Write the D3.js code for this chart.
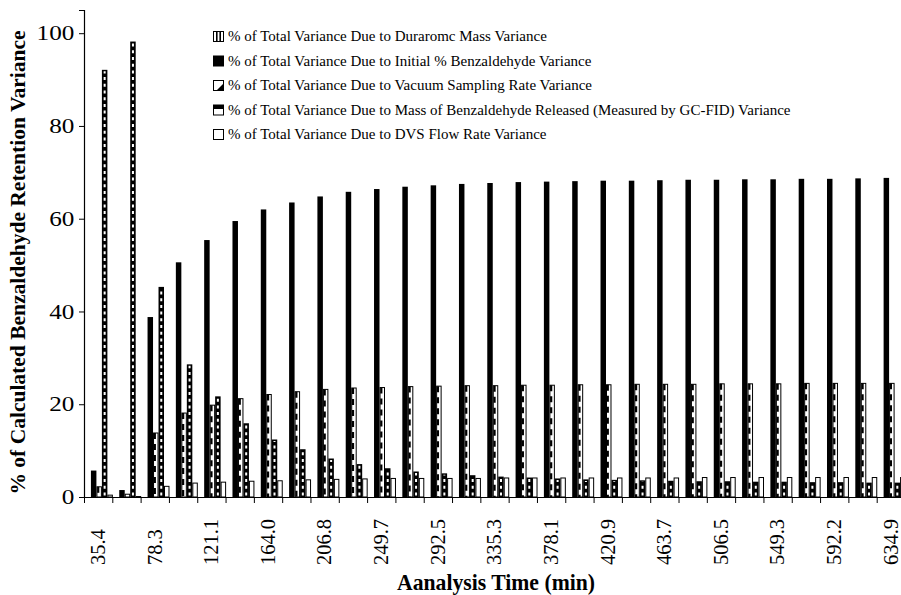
<!DOCTYPE html>
<html>
<head>
<meta charset="utf-8">
<script src="https://cdn.jsdelivr.net/npm/d3@7/dist/d3.min.js"></script>
<style>
  body { margin: 0; background: #fff; }
  svg text { font-family: 'Liberation Serif', 'DejaVu Serif', serif !important; fill: #000; }
</style>
</head>
<body>
<svg id="chart" width="901" height="595"></svg>
<script>
// Analysis times (min), one per group; only every other one is labelled
var times = [35.4, 56.9, 78.3, 99.7, 121.1, 142.6, 164.0, 185.4, 206.8, 228.3,
             249.7, 271.1, 292.5, 313.9, 335.3, 356.7, 378.1, 399.5, 420.9, 442.3,
             463.7, 485.1, 506.5, 527.9, 549.3, 570.8, 592.2, 613.6, 634.9];

var seriesNames = [
  '% of Total Variance Due to Duraromc Mass Variance',
  '% of Total Variance Due to Initial % Benzaldehyde Variance',
  '% of Total Variance Due to Vacuum Sampling Rate Variance',
  '% of Total Variance Due to Mass of Benzaldehyde Released (Measured by GC-FID) Variance',
  '% of Total Variance Due to DVS Flow Rate Variance'
];

var duraromc = [0, 0, 0, 0, 0, 0, 0, 0, 0, 0, 0, 0, 0, 0, 0,
                0, 0, 0, 0, 0, 0, 0, 0, 0, 0, 0, 0, 0, 0];
var initialBenz = [5.7, 1.5, 38.8, 50.6, 55.4, 59.5, 62.0, 63.5, 64.8, 65.8,
                   66.4, 66.9, 67.2, 67.5, 67.7, 67.9, 68.0, 68.1, 68.2, 68.2,
                   68.3, 68.4, 68.4, 68.5, 68.5, 68.6, 68.6, 68.7, 68.8];
var vacuumRate = [2.2, 0.6, 13.8, 18.1, 19.8, 21.2, 22.1, 22.7, 23.2, 23.5,
                  23.6, 23.8, 23.9, 24.0, 24.0, 24.1, 24.1, 24.2, 24.2, 24.3,
                  24.3, 24.3, 24.4, 24.4, 24.4, 24.5, 24.5, 24.5, 24.5];
var massReleased = [92.1, 98.2, 45.3, 28.6, 21.7, 15.9, 12.4, 10.3, 8.3, 7.1,
                    6.2, 5.5, 5.1, 4.7, 4.4, 4.2, 4.0, 3.8, 3.7, 3.6,
                    3.5, 3.4, 3.4, 3.3, 3.3, 3.2, 3.2, 3.1, 3.1];
var dvsFlow = [0.4, 0.1, 2.3, 3.0, 3.2, 3.4, 3.5, 3.7, 3.8, 3.9,
               4.0, 4.0, 4.0, 4.0, 4.1, 4.1, 4.1, 4.1, 4.1, 4.1,
               4.1, 4.2, 4.2, 4.2, 4.2, 4.2, 4.2, 4.2, 4.2];

var yTicks = [0, 20, 40, 60, 80, 100];

var series = [duraromc, initialBenz, vacuumRate, massReleased, dvsFlow];
var styles = ['stripe', 'solid', 'vacuum', 'dotted', 'open'];

var serif = "'Liberation Serif', 'DejaVu Serif', serif";

var svg = d3.select('#chart');
var margin = {left: 84, top: 10, bottom: 98},
    plotRight = 905,
    y0 = 595 - margin.bottom;

var x = d3.scaleBand()
  .domain(d3.range(times.length))
  .range([margin.left, plotRight]);

var x1 = d3.scaleBand()
  .domain(d3.range(series.length))
  .range([0, x.bandwidth()])
  .paddingOuter(0.08);

var y = d3.scaleLinear().domain([0, 105]).range([y0, margin.top]);

// bars
var groups = svg.append('g').selectAll('g')
  .data(times)
  .enter().append('g')
  .attr('transform', function(d, i) { return 'translate(' + (x(i) + 1) + ',0)'; });

groups.each(function(t, gi) {
  var g = d3.select(this);
  series.forEach(function(s, si) {
    var v = s[gi];
    if (v <= 0) return;
    var bx = x1(si) + 0.5, bw = x1.bandwidth() - 1, top = y(v), h = y0 - top;
    var st = styles[si];
    if (st === 'solid') {
      g.append('rect').attr('x', bx - 0.5).attr('y', top).attr('width', bw + 1).attr('height', h)
        .attr('fill', '#000');
    } else if (st === 'dotted') {
      g.append('rect').attr('x', bx - 0.5).attr('y', top).attr('width', bw + 1).attr('height', h)
        .attr('fill', '#000');
      g.append('line').attr('x1', bx + bw / 2).attr('x2', bx + bw / 2)
        .attr('y1', y0 - 1.5).attr('y2', top + 1.5)
        .attr('stroke', '#fff').attr('stroke-width', 2)
        .attr('stroke-dasharray', '3 3.7');
    } else if (st === 'vacuum') {
      g.append('rect').attr('x', bx).attr('y', top).attr('width', bw).attr('height', h)
        .attr('fill', '#fff').attr('stroke', '#000').attr('stroke-width', 1);
      if (h > 4) {
        g.append('line').attr('x1', bx + 1.3).attr('x2', bx + 1.3)
          .attr('y1', top).attr('y2', y0)
          .attr('stroke', '#000').attr('stroke-width', 2.2)
          .attr('stroke-dasharray', '6 5');
      }
    } else {
      g.append('rect').attr('x', bx).attr('y', top).attr('width', bw).attr('height', h)
        .attr('fill', '#fff').attr('stroke', '#000').attr('stroke-width', 1);
    }
  });
});

// y axis
var yAxis = svg.append('g')
  .attr('transform', 'translate(' + margin.left + ',0)')
  .call(d3.axisLeft(y).tickValues(yTicks).tickSizeOuter(0).tickSize(5).tickPadding(3));
yAxis.attr('font-family', serif);
yAxis.select('.domain').attr('stroke', '#000').attr('stroke-width', 1.2);
yAxis.selectAll('text')
  .style('font-size', '21px')
  .style('font-family', serif)
  .attr('transform', 'scale(1.2,1)');

// x axis: ticks on group boundaries
var xb = d3.scaleLinear().domain([0, times.length]).range([margin.left, plotRight]);
var xAxis = svg.append('g')
  .attr('transform', 'translate(0,' + y0 + ')')
  .call(d3.axisBottom(xb).tickValues(d3.range(times.length + 1)).tickFormat('').tickSize(6).tickSizeOuter(0));
xAxis.select('.domain').attr('stroke', '#000').attr('stroke-width', 1.2);

// x tick labels, every other group
var xLab = svg.append('g')
  .attr('transform', 'translate(0,' + y0 + ')')
  .call(d3.axisBottom(x)
    .tickValues(d3.range(0, times.length, 2))
    .tickFormat(function(i) { return times[i].toFixed(1); })
    .tickSize(0));
xLab.attr('font-family', serif);
xLab.select('.domain').remove();
xLab.selectAll('text')
  .style('font-size', '20.5px')
  .style('font-family', serif)
  .attr('text-anchor', 'start')
  .attr('transform', 'translate(0,68) rotate(-90)')
  .attr('x', 0).attr('y', 0).attr('dy', '0.33em');

// axis titles
svg.append('text')
  .attr('transform', 'translate(25,' + ((margin.top + y0) / 2 + 9) + ') rotate(-90)')
  .attr('text-anchor', 'middle')
  .style('font-family', serif)
  .style('font-size', '21.5px').style('font-weight', 'bold')
  .text('% of Calculated Benzaldehyde Retention Variance');

svg.append('text')
  .attr('x', 496).attr('y', 590)
  .attr('text-anchor', 'middle')
  .attr('textLength', 198)
  .attr('lengthAdjust', 'spacingAndGlyphs')
  .style('font-family', serif)
  .style('font-size', '24px').style('font-weight', 'bold')
  .text('Aanalysis Time (min)');

// legend
var legend = svg.append('g').attr('transform', 'translate(213,31)');
var item = legend.selectAll('g').data(seriesNames).enter().append('g')
  .attr('transform', function(d, i) { return 'translate(0,' + (i * 24.5) + ')'; });

item.each(function(d, i) {
  var g = d3.select(this);
  var st = styles[i];
  g.append('rect').attr('x', 0.5).attr('y', 0.5).attr('width', 10).attr('height', 10)
    .attr('fill', st === 'solid' ? '#000' : '#fff').attr('stroke', '#000');
  if (st === 'stripe') {
    [3.8, 7.2].forEach(function(lx) {
      g.append('line').attr('x1', lx).attr('x2', lx).attr('y1', 0.5).attr('y2', 10.5)
        .attr('stroke', '#000').attr('stroke-width', 1.6);
    });
  } else if (st === 'vacuum') {
    g.append('path').attr('d', 'M10.5,3.5 L10.5,10.5 L3.5,10.5 Z').attr('fill', '#000');
  } else if (st === 'dotted') {
    g.append('rect').attr('x', 0.5).attr('y', 0.5).attr('width', 10).attr('height', 4).attr('fill', '#000');
  }
  g.append('text').attr('x', 15).attr('y', 10)
    .style('font-family', serif)
    .style('font-size', '15px')
    .text(d);
});
</script>
</body>
</html>
